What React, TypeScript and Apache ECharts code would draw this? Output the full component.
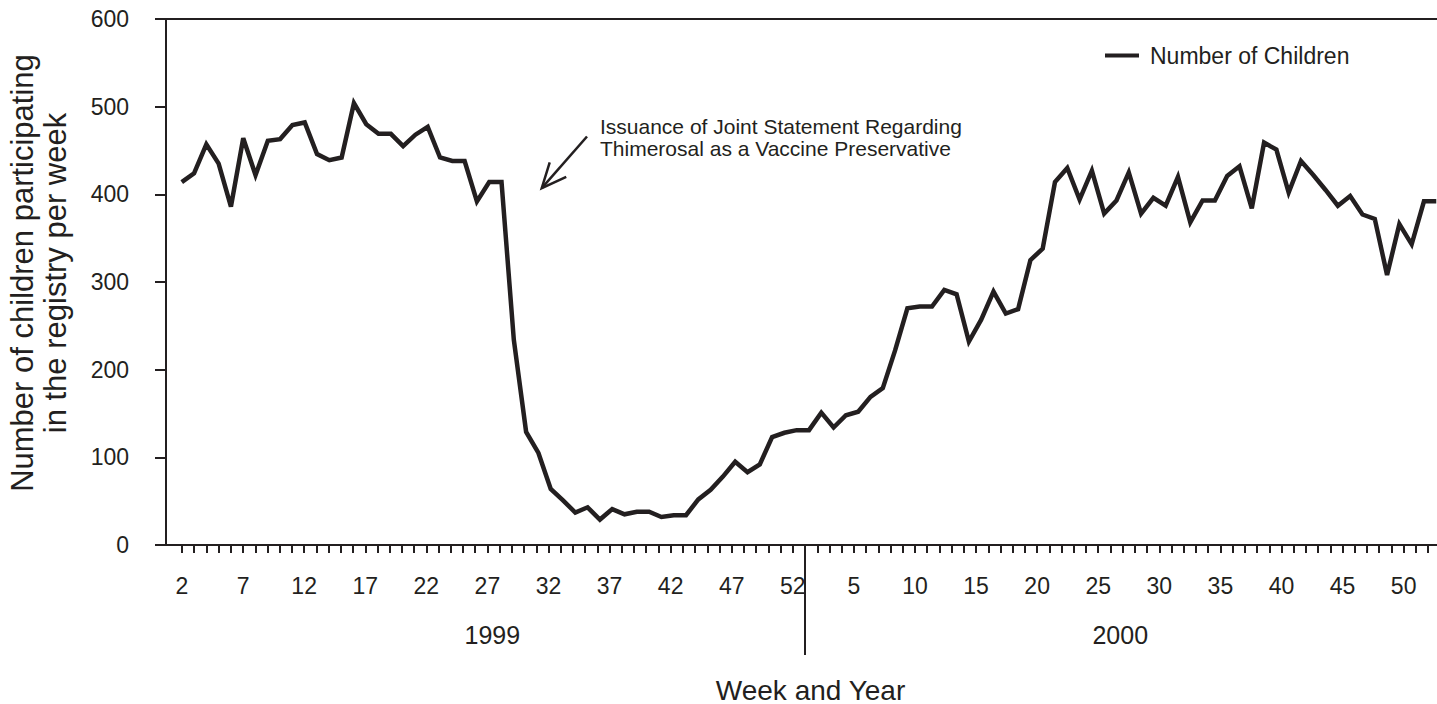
import React, { useEffect, useRef } from "react";
import * as echarts from "echarts";

// ---- data ----
const weeks1999 = [
  2, 3, 4, 5, 6, 7, 8, 9, 10, 11, 12, 13, 14, 15, 16, 17, 18, 19, 20, 21, 22, 23, 24, 25, 26, 27,
  28, 29, 30, 31, 32, 33, 34, 35, 36, 37, 38, 39, 40, 41, 42, 43, 44, 45, 46, 47, 48, 49, 50, 51, 52,
];
const weeks2000 = [
  1, 2, 3, 4, 5, 6, 7, 8, 9, 10, 11, 12, 13, 14, 15, 16, 17, 18, 19, 20, 21, 22, 23, 24, 25, 26,
  27, 28, 29, 30, 31, 32, 33, 34, 35, 36, 37, 38, 39, 40, 41, 42, 43, 44, 45, 46, 47, 48, 49, 50, 51, 52,
];
const children1999 = [
  414, 424, 457, 435, 386, 464, 422, 461, 463, 479, 482, 446, 439, 442, 504, 480, 469, 469, 455, 468,
  477, 442, 438, 438, 392, 414, 414, 234, 129, 105, 64, 51, 37, 43, 29, 41, 35, 38, 38, 32, 34, 34,
  52, 63, 78, 95, 83, 92, 123, 128, 131,
];
const children2000 = [
  131, 151, 134, 148, 152, 169, 179, 222, 270, 272, 272, 291, 286, 232, 257, 289, 264, 269, 325, 338,
  414, 430, 394, 427, 378, 393, 425, 378, 396, 387, 420, 368, 393, 393, 421, 432, 384, 459, 451, 402,
  438, 422, 405, 387, 398, 377, 372, 308, 366, 343, 392, 392,
];
const labeledWeeks1999 = [2, 7, 12, 17, 22, 27, 32, 37, 42, 47, 52];
const labeledWeeks2000 = [5, 10, 15, 20, 25, 30, 35, 40, 45, 50];
const yTicks = [0, 100, 200, 300, 400, 500, 600];
const seriesName = "Number of Children";
const yTitle = "Number of children participating\nin the registry per week";
const xTitle = "Week and Year";
const noteText = "Issuance of Joint Statement Regarding\nThimerosal as a Vaccine Preservative";
// annotation arrow, in data coordinates (week index, children)
const arrowTip = [29.27, 407];
const arrowTail = [32.95, 466];

// ---- derived ----
const points = [
  ...weeks1999.map((w, k) => ({ year: "1999", week: w, value: children1999[k] })),
  ...weeks2000.map((w, k) => ({ year: "2000", week: w, value: children2000[k] })),
];
const firstOf2000 = weeks1999.length;
const seriesData = points.map((p, i) => [i, p.value]);
const tickValues = points.map((_, i) => i);
const labelValues = [
  ...labeledWeeks1999.map((w) => weeks1999.indexOf(w)),
  ...labeledWeeks2000.map((w) => firstOf2000 + weeks2000.indexOf(w)),
];
const yearCenters = [(firstOf2000 - 1) / 2 + 0.4, (firstOf2000 + points.length - 1) / 2 + 0.3];

const FONT = '"Liberation Sans", Arial, Helvetica, sans-serif';
const INK = "#231f20";

export default function App() {
  const ref = useRef<HTMLDivElement>(null);
  useEffect(() => {
    if (!ref.current) return;
    const chart = echarts.init(ref.current, undefined, { renderer: "svg" });
    const tickAxisBase = {
      type: "value",
      min: -1.31,
      max: 102.73,
      splitLine: { show: false },
      nameMoveOverlap: false,
    };
    const option: any = {
      animation: false,
      backgroundColor: "#ffffff",
      textStyle: { fontFamily: FONT, color: INK },
      grid: { left: 166, right: 0, top: 19, bottom: 159, containLabel: false, outerBoundsMode: "none" },
      legend: {
        data: [{ name: seriesName, icon: "rect" }],
        left: 1105,
        top: 44,
        padding: 0,
        itemWidth: 34,
        itemHeight: 4,
        itemStyle: { color: INK, borderWidth: 0 },
        textStyle: { fontFamily: FONT, fontSize: 23, color: INK, padding: [0, 0, 0, 6] },
      },
      xAxis: [
        {
          type: "value",
          min: -1.28,
          max: 102.06,
          show: false,
        },
        {
          ...tickAxisBase,
          position: "bottom",
          name: xTitle,
          nameLocation: "middle",
          nameGap: 131,
          nameTextStyle: { fontFamily: FONT, fontSize: 28, color: INK, padding: [0, 0, 0, 18] },
          axisLine: { show: true, onZero: false, lineStyle: { color: INK, width: 2 } },
          axisTick: {
            show: true,
            inside: false,
            length: 8,
            customValues: tickValues,
            lineStyle: { color: INK, width: 2 },
          },
          axisLabel: {
            show: true,
            margin: 29,
            fontSize: 23,
            fontFamily: FONT,
            color: INK,
            customValues: labelValues,
            formatter: (v: number) => String(points[Math.round(v)]?.week ?? ""),
          },
        },
        {
          ...tickAxisBase,
          position: "top",
          axisLine: { show: true, onZero: false, lineStyle: { color: INK, width: 2 } },
          axisTick: { show: false },
          axisLabel: { show: false },
        },
        {
          ...tickAxisBase,
          position: "bottom",
          axisLine: { show: false },
          axisTick: {
            show: true,
            inside: false,
            length: 110,
            customValues: [firstOf2000],
            lineStyle: { color: INK, width: 2 },
          },
          axisLabel: {
            show: true,
            margin: 77,
            fontSize: 25,
            fontFamily: FONT,
            color: INK,
            customValues: yearCenters,
            formatter: (v: number) => (v < firstOf2000 ? "1999" : "2000"),
          },
        },
      ],
      yAxis: {
        type: "value",
        min: yTicks[0],
        max: yTicks[yTicks.length - 1],
        interval: yTicks[1] - yTicks[0],
        name: yTitle,
        nameLocation: "middle",
        nameGap: 94,
        nameMoveOverlap: false,
        nameTextStyle: { fontFamily: FONT, fontSize: 31, lineHeight: 33, color: INK, padding: [0, 0, 0, 18] },
        splitLine: { show: false },
        axisLine: { show: true, onZero: false, lineStyle: { color: INK, width: 2 } },
        axisTick: { show: true, inside: false, length: 11, lineStyle: { color: INK, width: 2 } },
        axisLabel: { margin: 37, fontSize: 23, fontFamily: FONT, color: INK },
      },
      series: [
        {
          name: seriesName,
          type: "line",
          xAxisIndex: 0,
          yAxisIndex: 0,
          data: seriesData,
          showSymbol: false,
          symbol: "none",
          lineStyle: { color: INK, width: 4.5, join: "miter" },
          itemStyle: { color: INK },
        },
      ],
    };
    chart.setOption(option);

    const tip = chart.convertToPixel({ xAxisIndex: 0, yAxisIndex: 0 }, arrowTip) as number[];
    const tail = chart.convertToPixel({ xAxisIndex: 0, yAxisIndex: 0 }, arrowTail) as number[];
    const dx = tail[0] - tip[0];
    const dy = tail[1] - tip[1];
    const ang = Math.atan2(dy, dx);
    const headLen = 27;
    const spread = (24 * Math.PI) / 180;
    const w1 = [tip[0] + headLen * Math.cos(ang - spread), tip[1] + headLen * Math.sin(ang - spread)];
    const w2 = [tip[0] + headLen * Math.cos(ang + spread), tip[1] + headLen * Math.sin(ang + spread)];
    chart.setOption({
      graphic: [
        {
          type: "line",
          shape: { x1: tail[0], y1: tail[1], x2: tip[0], y2: tip[1] },
          style: { stroke: INK, lineWidth: 2.5 },
        },
        {
          type: "polyline",
          shape: { points: [w1, tip, w2] },
          style: { stroke: INK, lineWidth: 2.5, fill: null },
        },
        {
          type: "text",
          x: tail[0] + 13,
          y: tail[1] - 21,
          style: {
            text: noteText,
            font: `21px ${FONT}`,
            lineHeight: 22,
            fill: INK,
            verticalAlign: "top",
          },
        },
      ],
    });
    return () => chart.dispose();
  }, []);
  return (
    <div
      ref={ref}
      style={{ position: "fixed", left: 0, top: 0, width: 1437, height: 704, background: "#ffffff" }}
    />
  );
}
